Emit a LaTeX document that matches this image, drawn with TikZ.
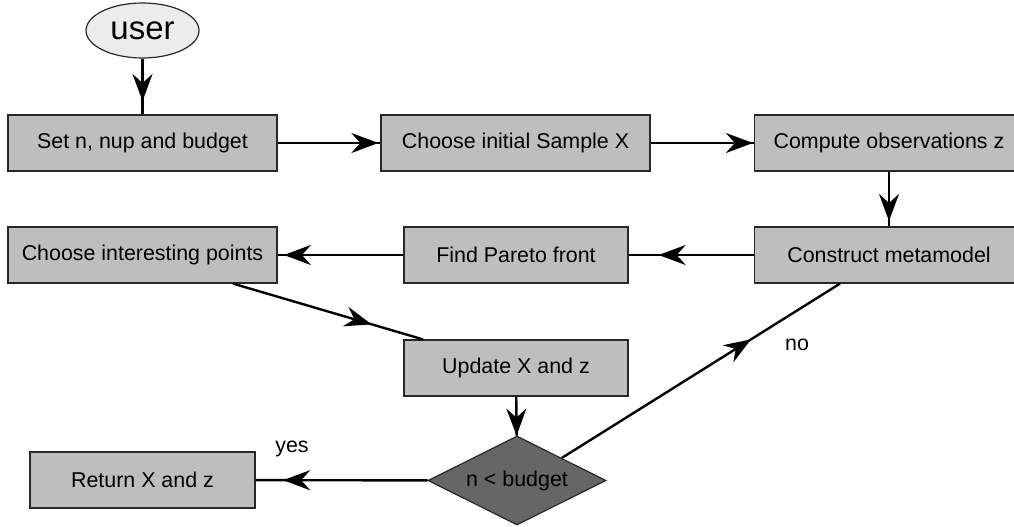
\documentclass[tikz,border=0pt]{standalone}
\usepackage{fontspec}
\setmainfont{Liberation Sans}
\usetikzlibrary{shapes.geometric,arrows.meta,decorations.markings}
\definecolor{boxgray}{RGB}{190,190,190}
\definecolor{ellgray}{RGB}{236,236,236}
\definecolor{diagray}{RGB}{102,102,102}
\definecolor{edgegray}{RGB}{40,40,40}
\tikzset{
  stepbox/.style={draw=edgegray, line width=1.2pt, fill=boxgray, rectangle,
    minimum height=56pt, inner sep=0pt, font=\fontsize{21.4}{25}\selectfont},
  userell/.style={draw=edgegray, line width=1.2pt, fill=ellgray, ellipse,
    minimum width=113pt, minimum height=55pt, inner sep=0pt, font=\fontsize{33}{38}\selectfont},
  decbox/.style={draw=edgegray, line width=1.2pt, fill=diagray, diamond,
    minimum width=178pt, minimum height=89pt, inner sep=0pt, font=\fontsize{21.4}{25}\selectfont},
  lbl/.style={font=\fontsize{21.4}{25}\selectfont, inner sep=0pt},
  conn/.style={line width=2.4pt, black},
  midarrow/.style={postaction={decorate}, decoration={markings,
    mark=at position #1 with {\arrow{Stealth[length=27pt,width=20pt,inset=9pt]}}}}
}
\begin{document}
\begin{tikzpicture}[x=1pt,y=-1pt]
\useasboundingbox (0,0) rectangle (1014,527);
\clip (0,0) rectangle (1014,527);
% nodes
\node[userell] (user) at (142.5,30.5) {user};
\node[stepbox, minimum width=269pt] (set) at (142.5,143) {Set n, nup and budget};
\node[stepbox, minimum width=269pt] (init) at (515.5,143) {Choose initial Sample X};
\node[stepbox, minimum width=269pt] (comp) at (889,143) {Compute observations z};
\node[stepbox, minimum width=269pt] (cons) at (889,255) {Construct metamodel};
\node[stepbox, minimum width=224pt] (pareto) at (516,255) {Find Pareto front};
\node[stepbox, minimum width=269pt] (choose) at (142.5,255) {Choose interesting points};
\node[stepbox, minimum width=224pt] (update) at (516,368) {Update X and z};
\node[decbox] (dec) at (517,480.5) {\makebox[0pt]{n < budget}};
\node[stepbox, minimum width=225pt] (ret) at (142.5,480) {Return X and z};
\node[lbl] (yes) at (292,449) {yes};
\node[lbl] (no) at (797,345) {no};
% connectors
\draw[conn, midarrow=0.76] (user) -- (set);
\draw[conn, midarrow=0.98] (set) -- (init);
\draw[conn, midarrow=0.99] (init) -- (comp);
\draw[conn, midarrow=0.9] (comp) -- (cons);
\draw[conn, midarrow=0.76] (cons) -- (pareto);
\draw[conn, midarrow=0.95] (pareto) -- (choose);
\draw[conn, midarrow=0.73] ([xshift=90.5pt]choose.south) -- ([xshift=-93pt]update.north);
\draw[conn, midarrow=1] (update) -- (dec);
\draw[conn, midarrow=0.68] (dec.north east) -- ([xshift=-49pt]cons.south);
\draw[conn, midarrow=0.84] (dec) -- (ret);
\end{tikzpicture}
\end{document}
